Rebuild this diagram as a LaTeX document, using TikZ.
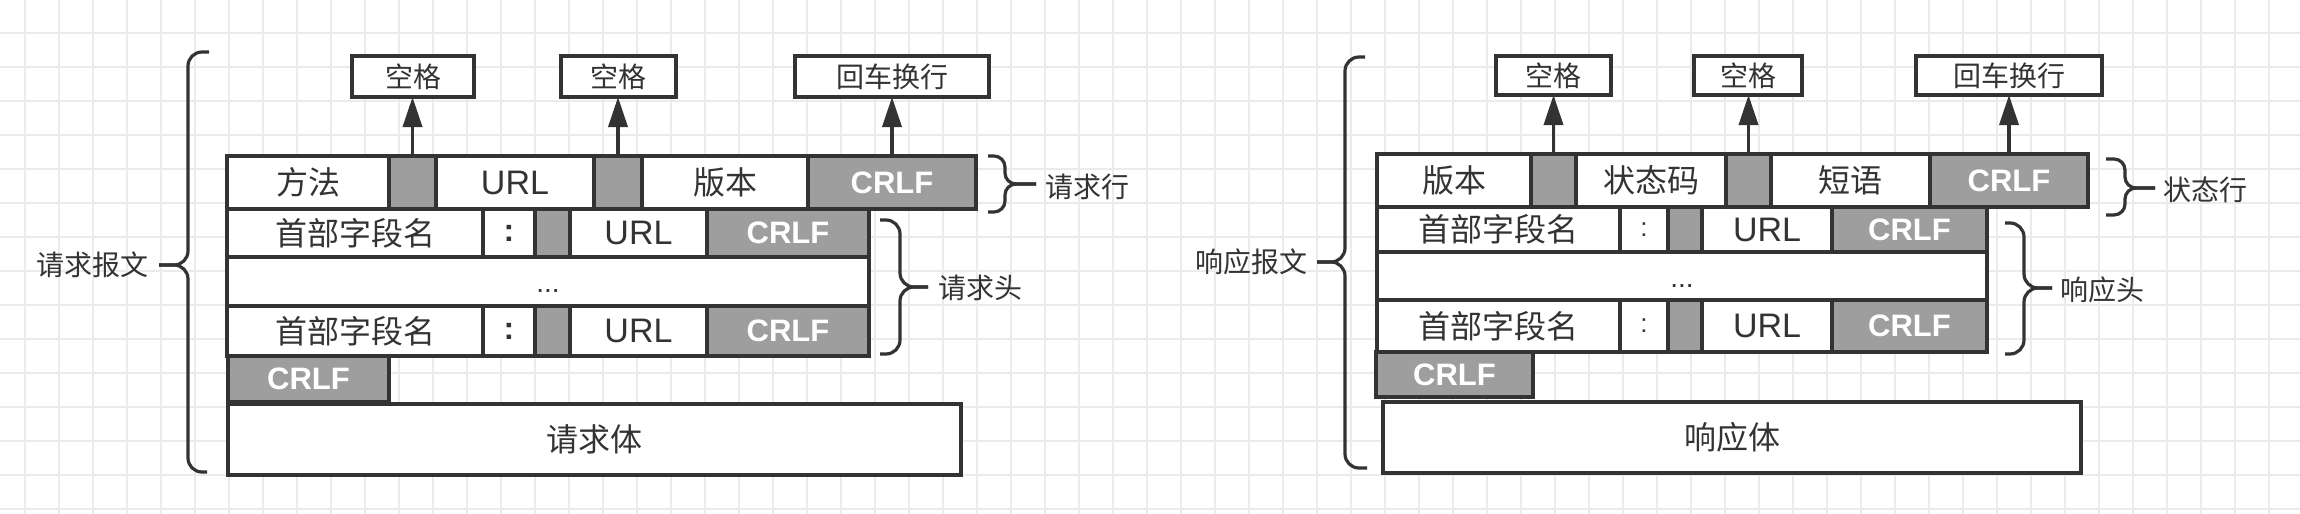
\documentclass[tikz,border=0pt]{standalone}
\usepackage{fontspec}
\setmainfont{Noto Sans CJK SC}
\newfontfamily\latinf{Liberation Sans}
\usetikzlibrary{arrows.meta}
\definecolor{linec}{HTML}{333333}
\definecolor{grayc}{HTML}{9E9E9E}
\definecolor{gridc}{HTML}{EBEBEB}
\definecolor{textc}{HTML}{333333}
\newcommand\cellbox[7]{%
  \pgfmathsetmacro\cbw{#4-#2}%
  \pgfmathsetmacro\cbh{#5-#3}%
  \pgfmathsetmacro\cbx{(#2+#4)/2}%
  \pgfmathsetmacro\cby{(#3+#5)/2}%
  \node[#6, minimum width=\cbw pt, minimum height=\cbh pt] (#1) at (\cbx,\cby) {#7};%
}
\tikzset{
  base/.style={draw=linec, line width=3.8pt, inner sep=0pt, outer sep=0pt, text=textc},
  wcell/.style={base, fill=white, font=\fontsize{32}{36}\selectfont},
  gcell/.style={base, fill=grayc},
  crlf/.style={base, fill=grayc, text=white, font=\latinf\bfseries\fontsize{31}{36}\selectfont},
  urlc/.style={base, fill=white, font=\latinf\fontsize{34}{38}\selectfont},
  colonl/.style={base, fill=white, font=\latinf\bfseries\fontsize{32}{36}\selectfont},
  colonr/.style={base, fill=white, font=\latinf\fontsize{26}{30}\selectfont},
  dotc/.style={base, fill=white, font=\latinf\fontsize{28}{34}\selectfont, text height=22pt, text depth=0pt},
  topbox/.style={draw=linec, line width=4pt, fill=white, inner sep=0pt, outer sep=0pt, text=textc, font=\fontsize{28}{32}\selectfont},
  lbl/.style={inner sep=0pt, text=textc, font=\fontsize{28}{32}\selectfont},
  bracec/.style={draw=linec, line width=3.2pt, rounded corners=14pt},
  smallbrace/.style={draw=linec, line width=3.2pt, rounded corners=11pt},
  arr/.style={draw=linec, line width=3.6pt, -{Triangle[length=30pt,width=19pt]}},
  gridline/.style={draw=gridc, line width=2pt}
}
\begin{document}
\begin{tikzpicture}[x=1pt,y=-1pt]
\fill[white] (0,0) rectangle (2300,514);
\useasboundingbox (0,0) rectangle (2300,514);
\foreach \i in {0,...,66} \draw[gridline] ({25.3+34*\i},0) -- ({25.3+34*\i},514);
\foreach \j in {1,...,15} \draw[gridline] (0,{-1.3+34*\j}) -- (2300,{-1.3+34*\j});

% ---------------- left: request ----------------
\draw[bracec] (209,52) -- (188,52) -- (188,265) -- (159,265);
\draw[bracec] (207,472) -- (188,472) -- (188,265) -- (159,265);
\node[lbl, anchor=east] (reqmsg) at (149,265) {请求报文};

\draw[smallbrace] (988,156) -- (1005,156) -- (1005,184) -- (1036,184);
\draw[smallbrace] (988,212) -- (1005,212) -- (1005,184) -- (1036,184);
\node[lbl, anchor=west] (reqline) at (1045,187) {请求行};

\draw[bracec] (880,220) -- (900,220) -- (900,287) -- (928,287);
\draw[bracec] (880,354) -- (900,354) -- (900,287) -- (928,287);
\node[lbl, anchor=west] (reqhead) at (938,288) {请求头};

\cellbox{lm}{227}{156}{389}{209}{wcell}{方法}
\cellbox{lg1}{389}{156}{436}{209}{gcell}{}
\cellbox{lu}{436}{156}{594}{209}{urlc}{URL}
\cellbox{lg2}{594}{156}{642}{209}{gcell}{}
\cellbox{lv}{642}{156}{808}{209}{wcell}{版本}
\cellbox{lc}{808}{156}{976}{209}{crlf}{CRLF}

\cellbox{lan}{227}{209}{483}{257}{wcell}{首部字段名}
\cellbox{lak}{483}{209}{535}{257}{colonl}{:}
\cellbox{lag}{535}{209}{570}{257}{gcell}{}
\cellbox{lau}{570}{209}{707}{257}{urlc}{URL}
\cellbox{lac}{707}{209}{869}{257}{crlf}{CRLF}

\cellbox{ld}{227}{257}{869}{306}{dotc}{...}

\cellbox{lbn}{227}{306}{483}{356}{wcell}{首部字段名}
\cellbox{lbk}{483}{306}{535}{356}{colonl}{:}
\cellbox{lbg}{535}{306}{570}{356}{gcell}{}
\cellbox{lbu}{570}{306}{707}{356}{urlc}{URL}
\cellbox{lbc}{707}{306}{869}{356}{crlf}{CRLF}

\cellbox{le}{228}{356}{389}{402}{crlf}{CRLF}
\cellbox{lbody}{228}{404}{961}{475}{wcell}{请求体}

\cellbox{ls1}{352}{56}{474}{97}{topbox}{空格}
\cellbox{ls2}{561}{56}{676}{97}{topbox}{空格}
\cellbox{lnl}{795}{56}{989}{97}{topbox}{回车换行}
\draw[arr] (lg1.north) -- (lg1.north |- ls1.south);
\draw[arr] (lg2.north) -- (lg2.north |- ls2.south);
\draw[arr] (lc.north) -- (lc.north |- lnl.south);

% ---------------- right: response ----------------
\draw[bracec] (1365,57) -- (1345,57) -- (1345,262) -- (1317,262);
\draw[bracec] (1367,468) -- (1345,468) -- (1345,262) -- (1317,262);
\node[lbl, anchor=east] (resmsg) at (1308,262) {响应报文};

\draw[smallbrace] (2106,159) -- (2125,159) -- (2125,188) -- (2155,188);
\draw[smallbrace] (2106,215) -- (2125,215) -- (2125,188) -- (2155,188);
\node[lbl, anchor=west] (statline) at (2163,190) {状态行};

\draw[bracec] (2005,223) -- (2024,223) -- (2024,288) -- (2052,288);
\draw[bracec] (2005,354) -- (2024,354) -- (2024,288) -- (2052,288);
\node[lbl, anchor=west] (reshead) at (2060,290) {响应头};

\cellbox{rv}{1377}{154}{1531}{207}{wcell}{版本}
\cellbox{rg1}{1531}{154}{1576}{207}{gcell}{}
\cellbox{rs}{1576}{154}{1726}{207}{wcell}{状态码}
\cellbox{rg2}{1726}{154}{1771}{207}{gcell}{}
\cellbox{rp}{1771}{154}{1930}{207}{wcell}{短语}
\cellbox{rc}{1930}{154}{2088}{207}{crlf}{CRLF}

\cellbox{ran}{1377}{207}{1620}{252}{wcell}{首部字段名}
\cellbox{rak}{1620}{207}{1668}{252}{colonr}{:}
\cellbox{rag}{1668}{207}{1702}{252}{gcell}{}
\cellbox{rau}{1702}{207}{1832}{252}{urlc}{URL}
\cellbox{rac}{1832}{207}{1987}{252}{crlf}{CRLF}

\cellbox{rd}{1377}{252}{1987}{300}{dotc}{...}

\cellbox{rbn}{1377}{300}{1620}{352}{wcell}{首部字段名}
\cellbox{rbk}{1620}{300}{1668}{352}{colonr}{:}
\cellbox{rbg}{1668}{300}{1702}{352}{gcell}{}
\cellbox{rbu}{1702}{300}{1832}{352}{urlc}{URL}
\cellbox{rbc}{1832}{300}{1987}{352}{crlf}{CRLF}

\cellbox{re}{1376}{352}{1533}{397}{crlf}{CRLF}
\cellbox{rbody}{1383}{402}{2081}{473}{wcell}{响应体}

\cellbox{rs1}{1496}{56}{1611}{95}{topbox}{空格}
\cellbox{rs2}{1694}{56}{1802}{95}{topbox}{空格}
\cellbox{rnl}{1916}{56}{2102}{95}{topbox}{回车换行}
\draw[arr] (rg1.north) -- (rg1.north |- rs1.south);
\draw[arr] (rg2.north) -- (rg2.north |- rs2.south);
\draw[arr] (rc.north) -- (rc.north |- rnl.south);
\end{tikzpicture}
\end{document}
